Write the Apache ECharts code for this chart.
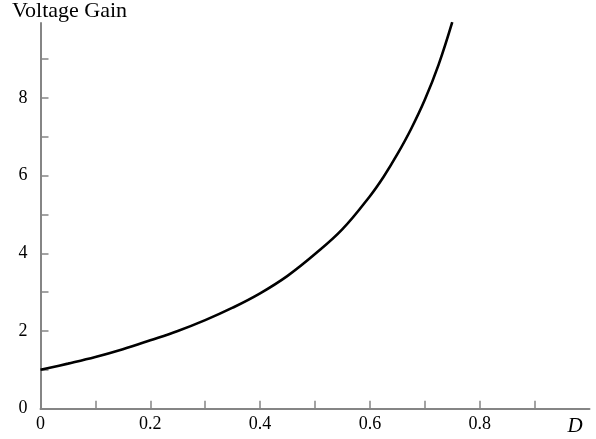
<!DOCTYPE html>
<html>
<head>
<meta charset="utf-8">
<script src="https://cdn.jsdelivr.net/npm/echarts@6/dist/echarts.min.js"></script>
<style>
    html, body { margin: 0; padding: 0; background: #fff; }
    #chart { width: 596px; height: 439px; }
</style>
</head>
<body>
<div id="chart"></div>
<script>
// duty cycle D and voltage gain
var dutyCycle = [0, 0.05, 0.1, 0.15, 0.2, 0.25, 0.3, 0.35, 0.4, 0.45, 0.5, 0.55, 0.6, 0.625, 0.65, 0.675, 0.7, 0.725, 0.75];
var voltageGain = [1.0, 1.16, 1.33, 1.53, 1.76, 2.0, 2.28, 2.6, 2.97, 3.42, 3.98, 4.62, 5.47, 5.97, 6.55, 7.2, 7.95, 8.85, 9.95];

var xTicks = [0.1, 0.2, 0.3, 0.4, 0.5, 0.6, 0.7, 0.8, 0.9];
var xLabels = [0, 0.2, 0.4, 0.6, 0.8, 1];
var yTicks = [1, 2, 3, 4, 5, 6, 7, 8, 9];
var yLabels = [0, 2, 4, 6, 8];

var myChart = echarts.init(document.getElementById('chart'));
var serif = 'Liberation Serif';
var axisGray = '#858585';

var option = {
    animation: false,
    title: {
        text: 'Voltage Gain',
        left: 12,
        top: 0,
        padding: 0,
        textStyle: {
            fontFamily: serif,
            fontSize: 22,
            fontWeight: 'normal',
            color: '#000'
        }
    },
    grid: {
        left: 40.5,
        right: 6.5,
        top: 22.9,
        bottom: 30.3,
        containLabel: false
    },
    xAxis: {
        type: 'value',
        min: 0,
        max: 1,
        splitLine: { show: false },
        axisLine: {
            lineStyle: { color: axisGray, width: 2 }
        },
        axisTick: {
            inside: true,
            length: 8,
            customValues: xTicks,
            lineStyle: { color: axisGray, width: 1.5 }
        },
        axisLabel: {
            customValues: xLabels,
            margin: 7,
            color: '#000',
            fontFamily: serif,
            fontSize: 18,
            formatter: function (v) {
                if (v === 1) return '{d|D}';
                return String(v);
            },
            rich: {
                d: {
                    fontFamily: serif,
                    fontStyle: 'italic',
                    fontSize: 21,
                    color: '#000',
                    padding: [0, 29, 0, 0]
                }
            }
        }
    },
    yAxis: {
        type: 'value',
        min: 0,
        max: 9.93,
        splitLine: { show: false },
        axisLine: {
            lineStyle: { color: axisGray, width: 2 }
        },
        axisTick: {
            inside: true,
            length: 8,
            customValues: yTicks,
            lineStyle: { color: axisGray, width: 1.5 }
        },
        axisLabel: {
            customValues: yLabels,
            margin: 13,
            color: '#000',
            fontFamily: serif,
            fontSize: 18
        }
    },
    series: [{
        type: 'line',
        data: dutyCycle.map(function (d, i) { return [d, voltageGain[i]]; }),
        smooth: 0.4,
        showSymbol: false,
        clip: true,
        silent: true,
        lineStyle: { color: '#000', width: 2.6 }
    }]
};
myChart.setOption(option);
</script>
</body>
</html>
